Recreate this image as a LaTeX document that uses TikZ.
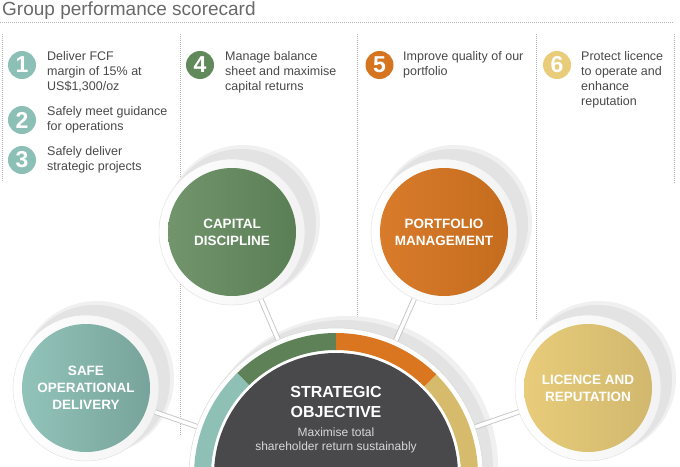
\documentclass[tikz,border=0pt]{standalone}
\usepackage{fontspec}
\setmainfont{Liberation Sans}
\usepackage{tikz}
\usetikzlibrary{positioning,calc}
\definecolor{titlegray}{RGB}{105, 105, 105}
\definecolor{textgray}{RGB}{72, 72, 72}
\definecolor{subgray}{RGB}{215, 215, 215}
\definecolor{objdark}{RGB}{73, 73, 75}
\definecolor{tealmark}{RGB}{140, 192, 182}
\definecolor{greenmark}{RGB}{98, 137, 92}
\definecolor{orangemark}{RGB}{214, 117, 32}
\definecolor{goldmark}{RGB}{232, 204, 122}
\definecolor{tealring}{RGB}{142, 192, 182}
\definecolor{greenring}{RGB}{94, 129, 88}
\definecolor{orangering}{RGB}{217, 118, 31}
\definecolor{goldring}{RGB}{215, 187, 108}

\begin{document}
\begin{tikzpicture}[
    x=1pt, y=1pt,
    dotline/.style={draw=gray!60, line width=0.8pt, dash pattern=on 0.8pt off 1.2pt},
    badge/.style={circle, minimum size=28pt, inner sep=0pt, text=white,
                  font=\fontsize{23}{23}\selectfont\bfseries},
    note/.style={anchor=north west, inner sep=0pt, align=left, text=textgray,
                 font=\fontsize{12.5}{15}\selectfont},
    halo/.style={fill=gray!12},
    innerhalo/.style={fill=gray!22},
    rim/.style={circle, minimum size=146pt, inner sep=0pt, left color=white,
                right color=gray!10, draw=gray!22, line width=0.5pt},
    disc/.style={circle, minimum size=128pt, inner sep=0pt, align=center, text=white,
                 font=\fontsize{13.5}{17}\selectfont\bfseries},
    link/.style={draw=gray!45, line width=0.9pt, double=white, double distance=3.6pt}
]
    \useasboundingbox (0,0) rectangle (680,-466);
    \clip (0,0) rectangle (680,-466);

    % heading and column rules
    \node[anchor=base west, inner sep=0pt, text=titlegray,
          font=\fontsize{19}{22}\selectfont] (title) at (2,-15.5) {Group performance scorecard};
    \draw[dotline] (0,-22.5) -- (673,-22.5);
    \draw[dotline] (2,-34) -- (2,-182);
    \draw[dotline] (180,-34) -- (180,-435);
    \draw[dotline] (357,-34) -- (357,-320);
    \draw[dotline] (536,-34) -- (536,-320);
    \draw[dotline] (674,-34) -- (674,-183);

    % numbered objectives
    \node[badge, fill=tealmark] (b1) at (22,-65) {1};
    \node[badge, fill=tealmark] (b2) at (22,-120) {2};
    \node[badge, fill=tealmark] (b3) at (22,-160) {3};
    \node[badge, fill=greenmark] (b4) at (200,-65) {4};
    \node[badge, fill=orangemark] (b5) at (379.5,-65) {5};
    \node[badge, fill=goldmark] (b6) at (557,-65) {6};

    \node[note] (n1) at (47,-51) {Deliver FCF\\margin of 15\% at\\US\$1,300/oz};
    \node[note] (n2) at (47,-106) {Safely meet guidance\\for operations};
    \node[note] (n3) at (47,-146) {Safely deliver\\strategic projects};
    \node[note] (n4) at (225,-51) {Manage balance\\sheet and maximise\\capital returns};
    \node[note] (n5) at (403,-51) {Improve quality of our\\portfolio};
    \node[note] (n6) at (581,-51) {Protect licence\\to operate and\\enhance\\reputation};

    % circle centres
    \coordinate (c-safe) at (86,-388);
    \coordinate (c-cap) at (232,-232);
    \coordinate (c-port) at (444,-232);
    \coordinate (c-lic) at (588,-388);
    \coordinate (c-obj) at (336,-475);

    % shadows
    \foreach \c in {c-safe, c-cap, c-port, c-lic} {
        \fill[halo] ([shift={(11,10)}]\c) circle (77);
        \fill[innerhalo] ([shift={(9,8)}]\c) circle (75);
    }
    \fill[halo] ([shift={(11,8)}]c-obj) circle (151);
    \fill[innerhalo] ([shift={(8,6)}]c-obj) circle (149);

    % links to the centre
    \draw[link] (c-safe) -- (c-obj);
    \draw[link] (c-cap) -- (c-obj);
    \draw[link] (c-port) -- (c-obj);
    \draw[link] (c-lic) -- (c-obj);

    % pillars
    \foreach \c in {c-safe, c-cap, c-port, c-lic}
        \node[rim] at (\c) {};
    \node[disc, left color=tealmark!95!white, right color=tealmark!85!black] (safe) at (c-safe) {SAFE\\OPERATIONAL\\DELIVERY};
    \node[disc, left color=greenmark!90!white, right color=greenmark!92!black] (cap) at (c-cap) {CAPITAL\\DISCIPLINE};
    \node[disc, left color=orangemark!95!white, right color=orangemark!92!black] (port) at (c-port) {PORTFOLIO\\MANAGEMENT};
    \node[disc, left color=goldmark, right color=goldmark!90!black] (lic) at (c-lic) {LICENCE AND\\REPUTATION};

    % strategic objective
    \fill[white, draw=gray!30, line width=0.5pt] (c-obj) circle (147);
    \foreach \a/\b/\col in {134/215/tealring, 90/134/greenring, 45/90/orangering, -35/45/goldring}
        \fill[\col] ($(c-obj)+(\a:142)$) arc[start angle=\a, end angle=\b, radius=142]
            -- ($(c-obj)+(\b:125)$) arc[start angle=\b, end angle=\a, radius=125] -- cycle;
    \node[circle, fill=objdark, minimum size=244pt, inner sep=0pt] (obj) at (c-obj) {};
    \node[align=center, text=white, font=\fontsize{16}{20}\selectfont\bfseries] (objt) at (336,-402) {STRATEGIC\\OBJECTIVE};
    \node[align=center, text=subgray, font=\fontsize{12}{14}\selectfont] (objs) at (336,-440) {Maximise total\\shareholder return sustainably};
\end{tikzpicture}
\end{document}
